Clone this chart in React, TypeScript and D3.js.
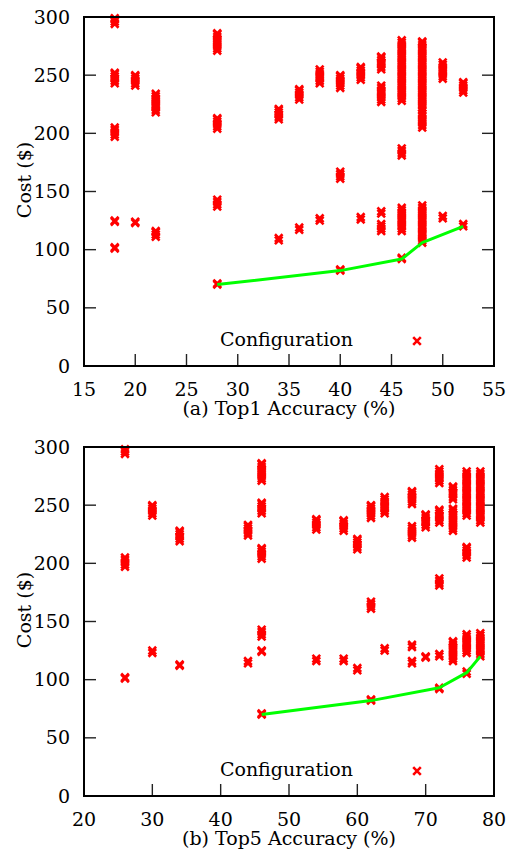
import * as d3 from "d3";

// ---- data ----
const COST_TICKS = [0, 50, 100, 150, 200, 250, 300];

// (a) Top1
const TOP1_TICKS = [15, 20, 25, 30, 35, 40, 45, 50, 55];
const TOP1_ACC = [18, 20, 22, 28, 34, 36, 38, 40, 42, 44, 46, 48, 50, 52];
const TOP1_COST = [
  [294, 296, 298, 299, 243, 245, 247, 249, 251, 252, 197, 199, 201, 203, 205, 124, 125, 101, 102],
  [241, 243, 245, 247, 249, 250, 123, 124],
  [218, 220, 222, 224, 226, 228, 230, 232, 234, 111, 113, 115, 116],
  [271, 273, 275, 277, 279, 281, 283, 285, 286, 204, 206, 208, 210, 212, 213, 137, 139, 141, 143, 70, 71],
  [212, 214, 216, 218, 220, 221, 108, 110],
  [229, 231, 233, 235, 237, 238, 117, 119],
  [243, 245, 247, 249, 251, 253, 255, 125, 127],
  [239, 241, 243, 245, 247, 249, 250, 161, 163, 165, 167, 82, 83],
  [246, 248, 250, 252, 254, 256, 257, 126, 128],
  [255, 257, 259, 261, 263, 265, 266, 227, 229, 231, 233, 235, 237, 239, 241, 131, 133, 116, 118, 120, 122],
  [228, 230, 232, 234, 236, 238, 240, 242, 244, 246, 248, 250, 252, 254, 256, 258, 260, 262, 264, 266, 268, 270, 272, 274, 276, 278, 280,
    181, 183, 185, 187, 116, 118, 120, 122, 124, 126, 128, 130, 132, 134, 136, 92, 93],
  [205, 207, 209, 211, 213, 215, 217, 220, 222, 224, 226, 228, 230, 232, 234, 236, 238, 240, 242, 244, 246, 248, 250, 252, 254, 256, 258,
    260, 262, 264, 266, 268, 270, 272, 274, 276, 278, 279,
    106, 108, 110, 112, 114, 116, 118, 120, 122, 124, 126, 128, 130, 132, 134, 136, 138],
  [247, 249, 251, 253, 255, 257, 259, 261, 127, 129],
  [235, 237, 239, 241, 243, 244, 120, 122],
];
const TOP1_FRONT_ACC = [28, 40, 46, 48, 52];
const TOP1_FRONT_COST = [70, 82, 92, 106, 120];

// (b) Top5
const TOP5_TICKS = [20, 30, 40, 50, 60, 70, 80];
const TOP5_ACC = [26, 30, 34, 44, 46, 54, 58, 60, 62, 64, 68, 70, 72, 74, 76, 78];
const TOP5_COST = [
  [294, 296, 298, 197, 199, 201, 203, 205, 101, 102],
  [241, 243, 245, 247, 249, 250, 123, 125],
  [219, 221, 223, 225, 227, 228, 112, 113],
  [224, 226, 228, 230, 232, 233, 114, 116],
  [271, 273, 275, 277, 279, 281, 283, 285, 286, 243, 245, 247, 249, 251, 252, 204, 206, 208, 210, 212, 213, 137, 139, 141, 143, 124, 125, 70, 71],
  [229, 231, 233, 235, 237, 238, 116, 118],
  [228, 230, 232, 234, 236, 237, 116, 118],
  [212, 214, 216, 218, 220, 221, 108, 110],
  [239, 241, 243, 245, 247, 249, 250, 161, 163, 165, 167, 82, 83],
  [243, 245, 247, 249, 251, 253, 255, 257, 125, 127],
  [251, 253, 255, 257, 259, 261, 262, 222, 224, 226, 228, 230, 232, 128, 130, 114, 116],
  [231, 233, 235, 237, 239, 241, 242, 119, 120],
  [269, 271, 273, 275, 277, 279, 281, 235, 237, 239, 241, 243, 245, 246, 181, 183, 185, 187, 120, 122, 92, 93],
  [255, 257, 259, 261, 263, 265, 266, 228, 230, 232, 234, 236, 238, 240, 242, 244, 246, 247,
    116, 118, 120, 122, 124, 126, 128, 130, 132, 133],
  [241, 243, 245, 247, 249, 251, 253, 255, 257, 259, 261, 263, 265, 267, 269, 271, 273, 275, 277, 279,
    205, 207, 209, 211, 213, 214, 123, 125, 127, 129, 131, 133, 135, 137, 139, 105, 107],
  [235, 237, 239, 241, 243, 245, 247, 249, 251, 253, 255, 257, 259, 261, 263, 265, 267, 269, 271, 273, 275, 277, 279,
    120, 122, 124, 126, 128, 130, 132, 134, 136, 138, 140],
];
const TOP5_FRONT_ACC = [46, 62, 72, 76, 78];
const TOP5_FRONT_COST = [70, 82, 93, 106, 120];

// Liberation Serif isn't there, DejaVu Serif is
const FONT = '"DejaVu Serif", "Liberation Serif", serif';
const LEFT = 84;
const RIGHT = 494;
const PLOT_H = 349;
const CROSS = "M-3.8,-3.8L3.8,3.8M-3.8,3.8L3.8,-3.8";

function Panel({ top, xDomain, xTicks, acc, costs, frontAcc, frontCost, title }) {
  const x = d3.scaleLinear().domain(xDomain).range([LEFT, RIGHT]);
  const y = d3.scaleLinear().domain([0, 300]).range([top + PLOT_H, top]);
  const bottom = top + PLOT_H;
  const line = d3.line<number>()
    .x((d) => x(d))
    .y((_, i) => y(frontCost[i]));

  const pts = [];
  acc.forEach((a, i) => costs[i].forEach((c, j) => pts.push({ a, c, k: `${i}-${j}` })));

  return (
    <g style={{ fontFamily: FONT, fontSize: 19 }} fill="#000">
      {/* ticks */}
      {COST_TICKS.map((t) => (
        <g key={"y" + t}>
          <line x1={LEFT} x2={LEFT + 12} y1={y(t)} y2={y(t)} stroke="#222" strokeWidth={1.4} />
          <line x1={RIGHT - 12} x2={RIGHT} y1={y(t)} y2={y(t)} stroke="#222" strokeWidth={1.4} />
          <text x={70} y={y(t)} dy="0.35em" textAnchor="end">{t}</text>
        </g>
      ))}
      {xTicks.map((t) => (
        <g key={"x" + t}>
          <line x1={x(t)} x2={x(t)} y1={bottom} y2={bottom - 12} stroke="#222" strokeWidth={1.4} />
          <text x={x(t)} y={bottom + 30} textAnchor="middle">{t}</text>
        </g>
      ))}

      {/* points */}
      {pts.map((p) => (
        <path key={p.k} d={CROSS} transform={`translate(${x(p.a)},${y(p.c)})`}
          stroke="#ff0000" strokeWidth={2.6} fill="none" />
      ))}

      {/* cost frontier */}
      <path d={line(frontAcc)} stroke="#00ff00" strokeWidth={3} fill="none" strokeLinejoin="round" />

      {/* legend */}
      <text x={353} y={top + 329} textAnchor="end">Configuration</text>
      <path d={CROSS} transform={`translate(417,${top + 324})`} stroke="#ff0000" strokeWidth={2.6} fill="none" />

      {/* frame */}
      <rect x={LEFT} y={top} width={RIGHT - LEFT} height={PLOT_H} fill="none" stroke="#000" strokeWidth={2} />

      {/* axis titles */}
      <text x={(LEFT + RIGHT) / 2} y={bottom + 49} textAnchor="middle">{title}</text>
      <text transform={`translate(31,${top + 163}) rotate(-90)`} textAnchor="middle">Cost ($)</text>
    </g>
  );
}

export default function App() {
  return (
    <svg width={516} height={849} style={{ position: "absolute", left: 0, top: 0, background: "#fff" }}>
      <Panel top={17} xDomain={[15, 55]} xTicks={TOP1_TICKS} acc={TOP1_ACC} costs={TOP1_COST}
        frontAcc={TOP1_FRONT_ACC} frontCost={TOP1_FRONT_COST} title="(a) Top1 Accuracy (%)" />
      <Panel top={447} xDomain={[20, 80]} xTicks={TOP5_TICKS} acc={TOP5_ACC} costs={TOP5_COST}
        frontAcc={TOP5_FRONT_ACC} frontCost={TOP5_FRONT_COST} title="(b) Top5 Accuracy (%)" />
    </svg>
  );
}
